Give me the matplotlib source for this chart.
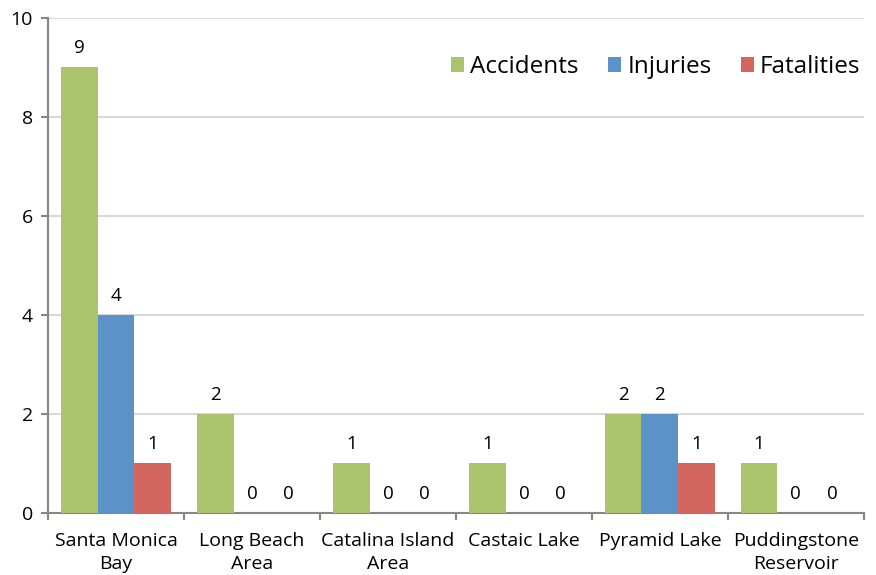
import numpy as np
import matplotlib.pyplot as plt

locations = ['Santa Monica\nBay', 'Long Beach\nArea', 'Catalina Island\nArea',
             'Castaic Lake', 'Pyramid Lake', 'Puddingstone\nReservoir']
accidents = [9, 2, 1, 1, 2, 1]
injuries = [4, 0, 0, 0, 2, 0]
fatalities = [1, 0, 0, 0, 1, 0]

series = [('Accidents', accidents, '#AAC46B'),
          ('Injuries', injuries, '#5B93C9'),
          ('Fatalities', fatalities, '#D3665F')]

plt.rcParams['font.family'] = ['Open Sans', 'DejaVu Sans']

fig = plt.figure(figsize=(8.76, 5.75), dpi=100)
ax = fig.add_axes([0.055, 0.108, 0.931, 0.861])

x = np.arange(len(locations)) + 0.5
width = 0.27
for i, (name, vals, color) in enumerate(series):
    pos = x + (i - 1) * width
    ax.bar(pos, vals, width, color=color, label=name, zorder=3)
    for xp, v in zip(pos, vals):
        ax.text(xp, v + 0.2, str(v), ha='center', va='bottom', fontsize=13.5)

ax.set_xlim(0, len(locations))
ax.set_ylim(0, 10)
ax.set_yticks(range(0, 11, 2))
ax.tick_params(axis='y', labelsize=14, color='#868686', length=5, width=1.5, pad=6)
ax.set_xticks(x)
ax.set_xticklabels(locations, fontsize=14, linespacing=1.3)
ax.tick_params(axis='x', length=0, pad=14)
ax.set_xticks(np.arange(len(locations) + 1), minor=True)
ax.tick_params(axis='x', which='minor', length=5, width=1.5, color='#868686')

ax.grid(axis='y', color='#D9D9D9', linewidth=1.5, zorder=0)
for s in ['top', 'right']:
    ax.spines[s].set_visible(False)
for s in ['left', 'bottom']:
    ax.spines[s].set_color('#868686')
    ax.spines[s].set_linewidth(1.5)

ax.legend(loc='upper right', bbox_to_anchor=(1.008, 0.945), ncol=3, frameon=False,
          fontsize=17.5, handlelength=0.55, handleheight=0.55, handletextpad=0.25,
          columnspacing=1.2, borderaxespad=0)

fig.savefig('out.png', dpi=100)
